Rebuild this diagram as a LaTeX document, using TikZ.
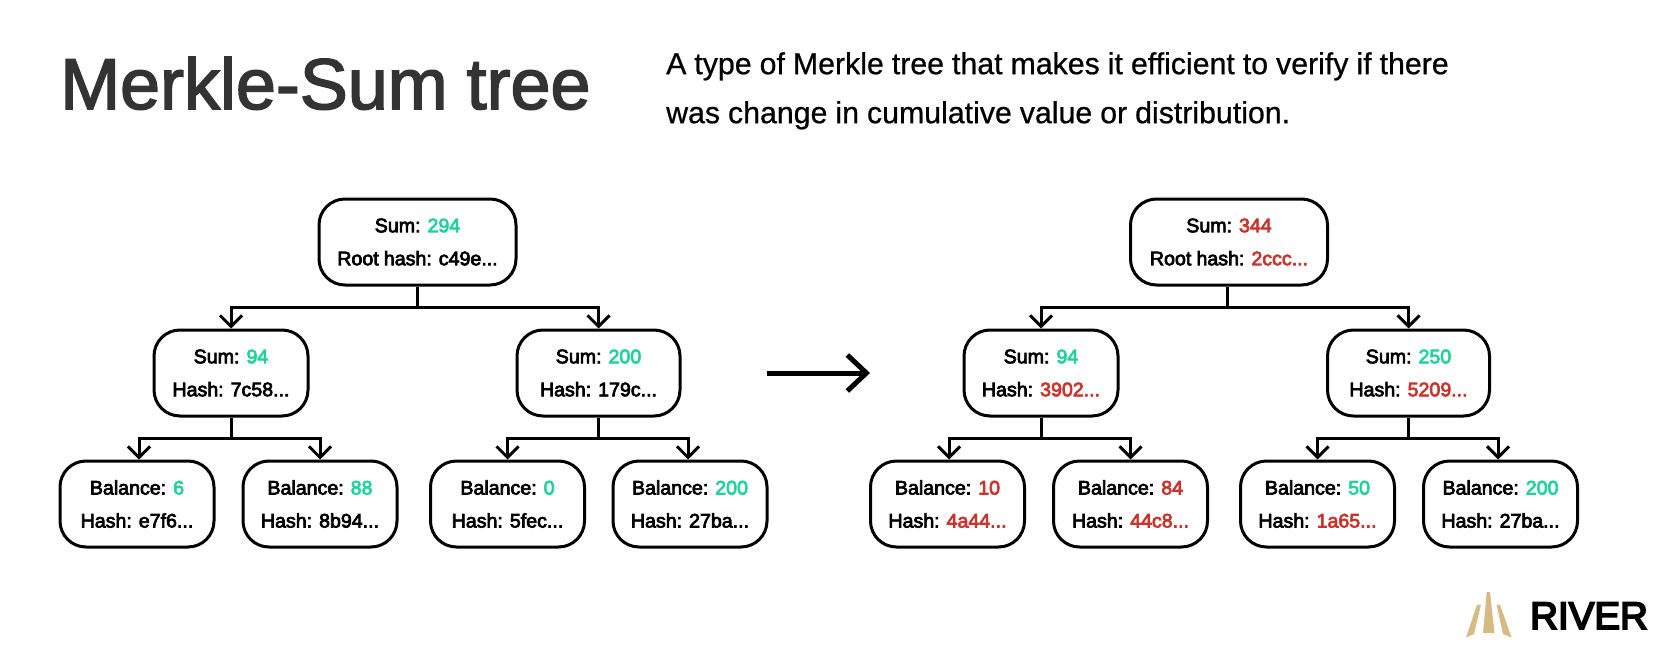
\documentclass[tikz,border=0pt]{standalone}
\usepackage{fontspec}
\usetikzlibrary{arrows.meta}
\setmainfont{Liberation Sans}
\newfontfamily\medf[WordSpace=0.75]{Liberation Sans}
\newfontfamily\titlef{Liberation Sans}
\newfontfamily\logof{Liberation Sans}
\newfontfamily\subf[WordSpace=0.95]{Liberation Sans}
\definecolor{grn}{HTML}{1FD39B}
\definecolor{rd}{HTML}{C9342C}
\definecolor{ttl}{HTML}{333333}
\definecolor{gold}{HTML}{D6BC84}
\newcommand{\G}[1]{\textcolor{grn}{#1}}
\newcommand{\R}[1]{\textcolor{rd}{#1}}
\newcommand{\heavyon}[1]{\special{pdf:code #1 w 2 Tr}}
\newcommand{\heavyoff}{\special{pdf:code 0 Tr}}
\tikzset{
  tbox/.style={draw=black,line width=3pt,rounded corners=26pt,fill=white,inner sep=0pt,align=center,
    font=\medf\fontsize{19.6}{33}\selectfont\heavyon{0.7},execute at end node=\heavyoff,text=black},
  rootbox/.style={tbox,minimum width=197pt,minimum height=86pt},
  conn/.style={draw=black,line width=3pt,-{Straight Barb[length=11pt,width=22pt,line width=3pt]}},
  stem/.style={draw=black,line width=3pt},
  bigarrow/.style={draw=black,line width=5pt,-{Straight Barb[length=19pt,width=36pt,line width=5pt]}}
}
\begin{document}
\begin{tikzpicture}[x=1pt,y=-1pt]
\useasboundingbox (0,0) rectangle (1662,650);
\node[anchor=base west,inner sep=0pt,text=ttl,font=\titlef\fontsize{71.9}{72}\selectfont\heavyon{1.6},execute at end node=\heavyoff] (title) at (60,109) {Merkle-Sum tree};
\node[anchor=north west,inner sep=0pt,align=left,text=black,font=\subf\fontsize{30.3}{49}\selectfont\heavyon{0.2},execute at end node=\heavyoff] (sub) at (666,52) {A type of Merkle tree that makes it efficient to verify if there\\was change in cumulative value or distribution.};
% left tree
\node[rootbox] (r) at (417.5,242) {Sum: \G{294}\\Root hash: c49e...};
\node[rootbox,minimum width=154pt] (ml) at (231,373) {Sum: \G{94}\\Hash: 7c58...};
\node[rootbox,minimum width=163pt] (mr) at (598.5,373) {Sum: \G{200}\\Hash: 179c...};
\node[rootbox,minimum width=154pt] (a) at (137,504) {Balance: \G{6}\\Hash: e7f6...};
\node[rootbox,minimum width=154pt] (b) at (320,504) {Balance: \G{88}\\Hash: 8b94...};
\node[rootbox,minimum width=154pt] (c) at (507.5,504) {Balance: \G{0}\\Hash: 5fec...};
\node[rootbox,minimum width=154pt] (d) at (690,504) {Balance: \G{200}\\Hash: 27ba...};
\coordinate (br) at (417,307);
\coordinate (bl) at (231,438);
\coordinate (brr) at (598.5,438);
\draw[stem] (br |- r.south) -- (br);
\draw[conn] (br) -| (ml.north);
\draw[conn] (br) -| (mr.north);
\draw[stem] (ml.south) -- (bl);
\draw[conn] (bl) -| ([xshift=2pt]a.north);
\draw[conn] (bl) -| (b.north);
\draw[stem] (mr.south) -- (brr);
\draw[conn] (brr) -| (c.north);
\draw[conn] (brr) -| ([xshift=-2pt]d.north);
% arrow between trees
\coordinate (as) at (767,373);
\coordinate (ae) at (870,373);
\draw[bigarrow] (as) -- (ae);
% right tree
\node[rootbox] (R) at (1229,242) {Sum: \R{344}\\Root hash: \R{2ccc...}};
\node[rootbox,minimum width=154pt] (ML) at (1041,373) {Sum: \G{94}\\Hash: \R{3902...}};
\node[rootbox,minimum width=162pt] (MR) at (1408.5,373) {Sum: \G{250}\\Hash: \R{5209...}};
\node[rootbox,minimum width=154pt] (A) at (947.5,504) {Balance: \R{10}\\Hash: \R{4a44...}};
\node[rootbox,minimum width=154pt] (B) at (1130.5,504) {Balance: \R{84}\\Hash: \R{44c8...}};
\node[rootbox,minimum width=154pt] (C) at (1317.5,504) {Balance: \G{50}\\Hash: \R{1a65...}};
\node[rootbox,minimum width=154pt] (D) at (1500.5,504) {Balance: \G{200}\\Hash: 27ba...};
\coordinate (Br) at (1227,307);
\coordinate (Bl) at (1041,438);
\coordinate (Brr) at (1408.5,438);
\draw[stem] (Br |- R.south) -- (Br);
\draw[conn] (Br) -| (ML.north);
\draw[conn] (Br) -| (MR.north);
\draw[stem] (ML.south) -- (Bl);
\draw[conn] (Bl) -| ([xshift=1.5pt]A.north);
\draw[conn] (Bl) -| (B.north);
\draw[stem] (MR.south) -- (Brr);
\draw[conn] (Brr) -| (C.north);
\draw[conn] (Brr) -| ([xshift=-2.5pt]D.north);
% logo
\fill[gold] (1486.7,592) -- (1490,592) -- (1494.5,633) -- (1483,633) -- cycle;
\fill[gold] (1477,604.5) -- (1481,604.5) -- (1474,634) -- (1466,637.5) -- cycle;
\fill[gold] (1496.5,604.5) -- (1500,604.5) -- (1511.5,637.5) -- (1503,634) -- cycle;
\node[anchor=base west,inner sep=0pt,text=black,font=\logof\fontsize{38.5}{40}\selectfont\heavyon{1.8},execute at end node=\heavyoff] (logo) at (1530,629) {RIVER};
\end{tikzpicture}
\end{document}
